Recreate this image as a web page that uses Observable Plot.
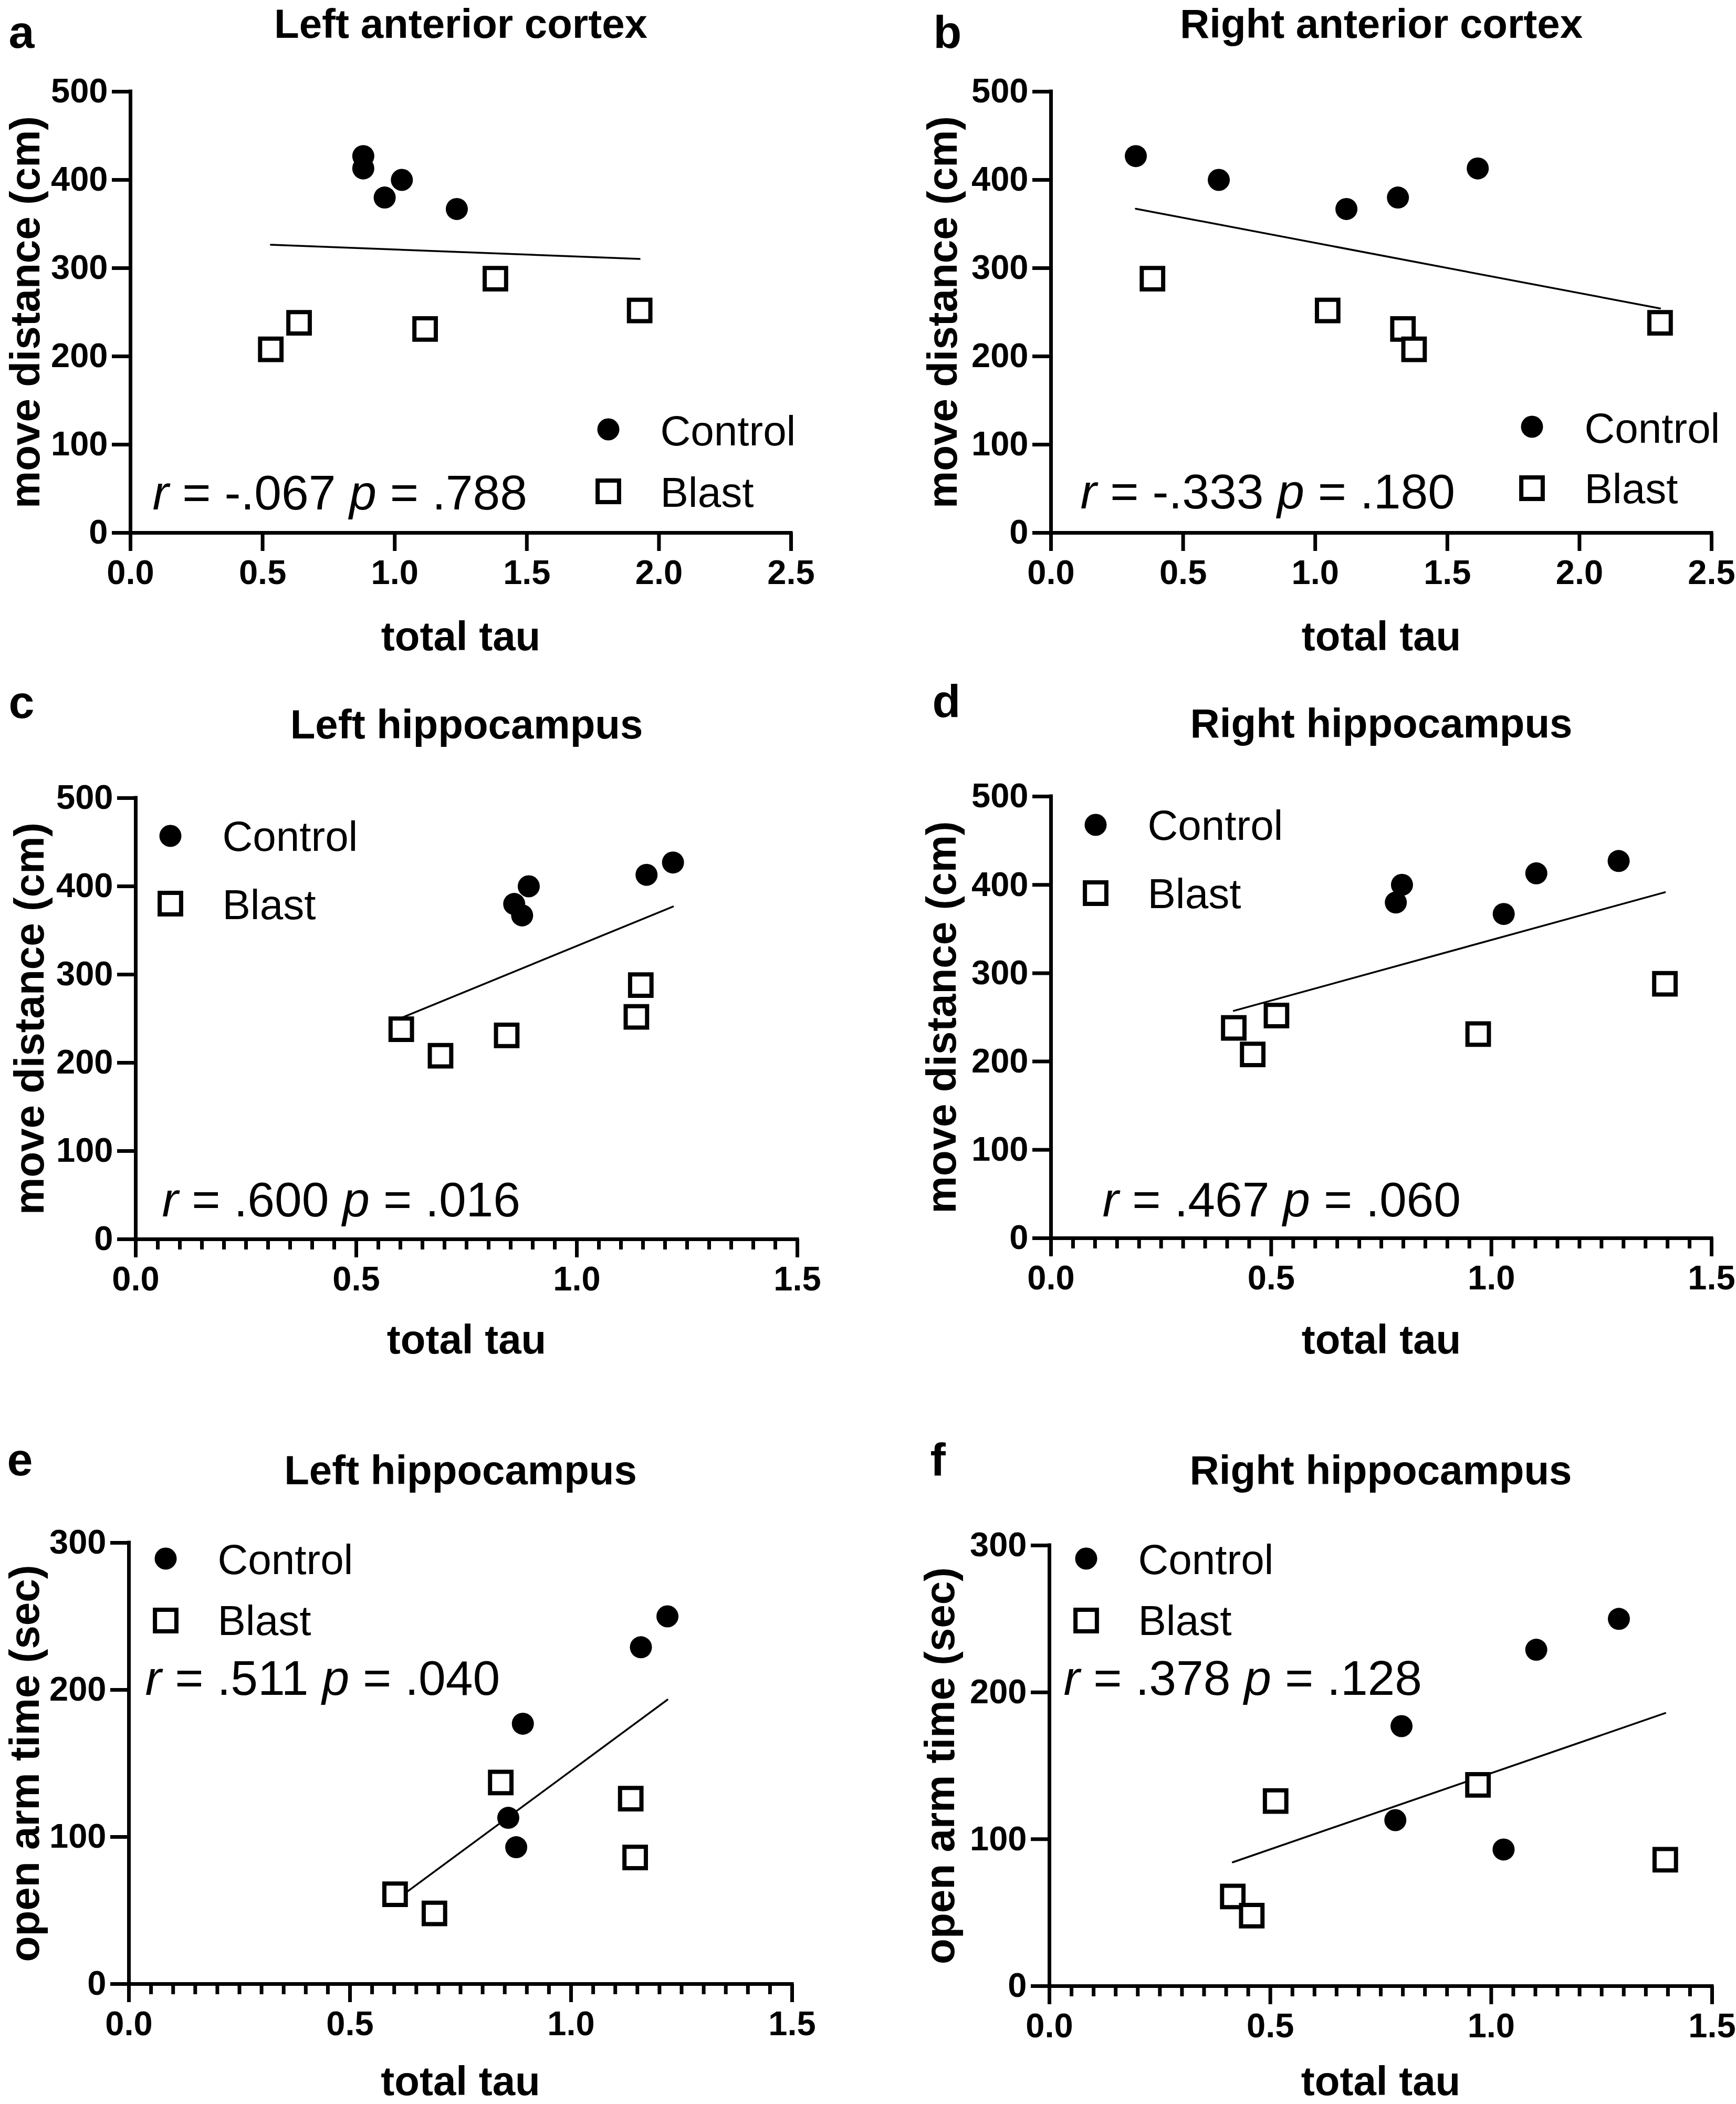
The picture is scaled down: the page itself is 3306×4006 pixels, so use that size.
<!DOCTYPE html>
<html>
<head>
<meta charset="utf-8">
<script src="https://cdn.jsdelivr.net/npm/d3@7"></script>
<script src="https://cdn.jsdelivr.net/npm/@observablehq/plot@0.6"></script>
<style>
  html, body { margin: 0; padding: 0; background: #ffffff; }
  #fig { position: relative; width: 3306px; height: 4006px; background: #ffffff; overflow: hidden; }
  #fig > svg { position: absolute; max-width: none; }
</style>
</head>
<body>
<div id="fig"></div>
<script>
// ---------------- data ----------------
const groups = ["Control", "Blast"];
// behaviour per animal (same animal order in every array)
const controlMove = [427, 413, 400, 380, 367];
const blastMove   = [288, 252, 238, 231, 208];
const controlOpenArm = [250, 229, 177, 113, 93];
const blastOpenArm   = [86, 126, 61, 137, 48];
// total tau per region
const controlTauLeftCortex  = [0.881, 0.881, 1.027, 0.962, 1.235];
const blastTauLeftCortex    = [1.381, 1.927, 0.638, 1.115, 0.531];
const controlTauRightCortex = [0.321, 1.615, 0.635, 1.313, 1.118];
const blastTauRightCortex   = [0.384, 1.047, 2.305, 1.332, 1.374];
const controlTauLeftHippo   = [1.218, 1.158, 0.891, 0.858, 0.876];
const blastTauLeftHippo     = [1.145, 1.135, 0.602, 0.841, 0.691];
const controlTauRightHippo  = [1.289, 1.102, 0.797, 0.783, 1.028];
const blastTauRightHippo    = [1.394, 0.512, 0.415, 0.970, 0.458];

const panelLetters = ["a", "b", "c", "d", "e", "f"];
const panelTitles = ["Left anterior cortex", "Right anterior cortex", "Left hippocampus", "Right hippocampus", "Left hippocampus", "Right hippocampus"];
const yLabels = ["move distance (cm)", "move distance (cm)", "move distance (cm)", "move distance (cm)", "open arm time (sec)", "open arm time (sec)"];
const xLabel = "total tau";
const statsR = ["-.067", "-.333", ".600", ".467", ".511", ".378"];
const statsP = [".788", ".180", ".016", ".060", ".040", ".128"];
const xTicksWide = [0, 0.5, 1.0, 1.5, 2.0, 2.5];
const xTicksNarrow = [0, 0.5, 1.0, 1.5];
const xMinorNarrow = d3.range(1, 30).filter(i => i % 10 !== 0).map(i => i / 20);
const yTicksMove = [0, 100, 200, 300, 400, 500];
const yTicksOpen = [0, 100, 200, 300];

const seriesSets = [
  [controlTauLeftCortex, controlMove, blastTauLeftCortex, blastMove],
  [controlTauRightCortex, controlMove, blastTauRightCortex, blastMove],
  [controlTauLeftHippo, controlMove, blastTauLeftHippo, blastMove],
  [controlTauRightHippo, controlMove, blastTauRightHippo, blastMove],
  [controlTauLeftHippo, controlOpenArm, blastTauLeftHippo, blastOpenArm],
  [controlTauRightHippo, controlOpenArm, blastTauRightHippo, blastOpenArm]
];
const xTickSets = [xTicksWide, xTicksWide, xTicksNarrow, xTicksNarrow, xTicksNarrow, xTicksNarrow];
const yTickSets = [yTicksMove, yTicksMove, yTicksMove, yTicksMove, yTicksOpen, yTicksOpen];

// ---------------- layout (page pixels) ----------------
const layout = [
  {left: 0,    top: 0,    W: 1653, H: 1300, x0: 248,  x1: 1506, yT: 174,  yB: 1014, minor: false,
   titleY: 71, letX: 16, letY: 90, xlabY: 1237, ylabX: 74,
   sX: 290, sY: 969, lcx: 1158, lcy: 817, lsy: 935, ltx: 1257, lty1: 847, lty2: 964},
  {left: 1653, top: 0,    W: 1653, H: 1300, x0: 2001, x1: 3259, yT: 174,  yB: 1014, minor: false,
   titleY: 71, letX: 1777, letY: 90, xlabY: 1237, ylabX: 1821,
   sX: 2057, sY: 967, lcx: 2917, lcy: 812, lsy: 929, ltx: 3017, lty1: 842, lty2: 957},
  {left: 0,    top: 1300, W: 1653, H: 1340, x0: 258,  x1: 1518, yT: 1519, yB: 2359, minor: true,
   titleY: 1405, letX: 16, letY: 1366, xlabY: 2576, ylabX: 82,
   sX: 308, sY: 2315, lcx: 324, lcy: 1591, lsy: 1720, ltx: 423, lty1: 1619, lty2: 1749},
  {left: 1653, top: 1300, W: 1653, H: 1340, x0: 2001, x1: 3259, yT: 1516, yB: 2357, minor: true,
   titleY: 1403, letX: 1775, letY: 1364, xlabY: 2576, ylabX: 1819,
   sX: 2099, sY: 2315, lcx: 2086, lcy: 1570, lsy: 1700, ltx: 2185, lty1: 1598, lty2: 1728},
  {left: 0,    top: 2640, W: 1653, H: 1366, x0: 245,  x1: 1508, yT: 2937, yB: 3777, minor: true,
   titleY: 2825, letX: 13, letY: 2808, xlabY: 3988, ylabX: 73,
   sX: 276, sY: 3226, lcx: 315, lcy: 2967, lsy: 3085, ltx: 414, lty1: 2996, lty2: 3112},
  {left: 1653, top: 2640, W: 1653, H: 1366, x0: 1998, x1: 3260, yT: 2942, yB: 3781, minor: true,
   titleY: 2825, letX: 1771, letY: 2808, xlabY: 3988, ylabX: 1816,
   sX: 2025, sY: 3226, lcx: 2068, lcy: 2967, lsy: 3085, ltx: 2167, lty1: 2996, lty2: 3112}
];

const FONT = "'Liberation Sans', Arial, Helvetica, sans-serif";
const fig = document.getElementById("fig");

function makeRows(ct, cv, bt, bv) {
  return [
    ...ct.map((t, i) => ({group: groups[0], tau: t, value: cv[i]})),
    ...bt.map((t, i) => ({group: groups[1], tau: t, value: bv[i]}))
  ];
}

panelLetters.forEach((letter, i) => {
  const L = layout[i];
  const rows = makeRows(...seriesSets[i]);
  const xt = xTickSets[i], yt = yTickSets[i];
  const fx = v => v - L.x0, fy = v => v - L.yT;
  const marks = [
    Plot.axisY({ticks: yt, tickSize: 35, tickPadding: 8, strokeWidth: 7, fontSize: 65, fontWeight: "bold", label: null, tickFormat: d => String(d)}),
    Plot.axisX({ticks: xt, tickSize: 35, tickPadding: 16, strokeWidth: 7, fontSize: 65, fontWeight: "bold", label: null, tickFormat: d3.format(".1f")}),
    L.minor ? Plot.axisX({ticks: xMinorNarrow, tickSize: 20, strokeWidth: 7, label: null, tickFormat: () => ""}) : null,
    Plot.ruleX([0], {strokeWidth: 7, strokeLinecap: "square", stroke: "black"}),
    Plot.ruleY([0], {strokeWidth: 7, strokeLinecap: "square", stroke: "black"}),
    Plot.linearRegressionY(rows, {x: "tau", y: "value", ci: 0, stroke: "black", strokeWidth: 3.5}),
    Plot.dot(rows.filter(d => d.group === groups[0]), {x: "tau", y: "value", r: 21, fill: "black"}),
    Plot.dot(rows.filter(d => d.group === groups[1]), {x: "tau", y: "value", r: 23, symbol: "square", fill: "white", stroke: "black", strokeWidth: 8}),
    // legend
    Plot.dot([groups[0]], {frameAnchor: "top-left", dx: fx(L.lcx), dy: fy(L.lcy), r: 21, fill: "black"}),
    Plot.dot([groups[1]], {frameAnchor: "top-left", dx: fx(L.lcx), dy: fy(L.lsy), r: 23, symbol: "square", fill: "white", stroke: "black", strokeWidth: 8}),
    Plot.text([groups[0]], {frameAnchor: "top-left", dx: fx(L.ltx), dy: fy(L.lty1), textAnchor: "start", lineAnchor: "bottom", fontSize: 80}),
    Plot.text([groups[1]], {frameAnchor: "top-left", dx: fx(L.ltx), dy: fy(L.lty2), textAnchor: "start", lineAnchor: "bottom", fontSize: 80}),
    // statistics
    Plot.text([`r = ${statsR[i]} p = ${statsP[i]}`], {frameAnchor: "top-left", dx: fx(L.sX), dy: fy(L.sY), textAnchor: "start", lineAnchor: "bottom", fontSize: 93}),
    // titles and labels
    Plot.text([panelTitles[i]], {frameAnchor: "top", dy: fy(L.titleY), lineAnchor: "bottom", fontSize: 78, fontWeight: "bold"}),
    Plot.text([letter], {frameAnchor: "top-left", dx: fx(L.letX), dy: fy(L.letY), textAnchor: "start", lineAnchor: "bottom", fontSize: 88, fontWeight: "bold"}),
    Plot.text([xLabel], {frameAnchor: "bottom", dy: L.xlabY - L.yB, lineAnchor: "bottom", fontSize: 78, fontWeight: "bold"}),
    Plot.text([yLabels[i]], {frameAnchor: "left", dx: fx(L.ylabX), rotate: -90, lineAnchor: "bottom", textAnchor: "middle", fontSize: 80, fontWeight: "bold"})
  ].filter(Boolean);

  const svg = Plot.plot({
    width: L.W,
    height: L.H,
    marginLeft: L.x0 - L.left,
    marginRight: L.left + L.W - L.x1,
    marginTop: L.yT - L.top,
    marginBottom: L.top + L.H - L.yB,
    x: {domain: [0, xt[xt.length - 1]]},
    y: {domain: [0, yt[yt.length - 1]]},
    style: {fontFamily: FONT, background: "white", color: "black", overflow: "visible"},
    marks
  });
  svg.style.left = L.left + "px";
  svg.style.top = L.top + "px";
  svg.style.width = L.W + "px";
  svg.style.height = L.H + "px";

  // italic r and p in the statistics line
  svg.querySelectorAll("text").forEach(t => {
    const s = t.textContent;
    const m = /^r = (\S+) p = (\S+)$/.exec(s);
    if (!m) return;
    while (t.firstChild) t.removeChild(t.firstChild);
    const parts = [["r", true], [` = ${m[1]} `, false], ["p", true], [` = ${m[2]}`, false]];
    for (const [txt, it] of parts) {
      const ts = document.createElementNS("http://www.w3.org/2000/svg", "tspan");
      ts.textContent = txt;
      if (it) ts.setAttribute("font-style", "italic");
      t.appendChild(ts);
    }
    t.setAttribute("xml:space", "preserve");
  });
  fig.appendChild(svg);
});
</script>
</body>
</html>
